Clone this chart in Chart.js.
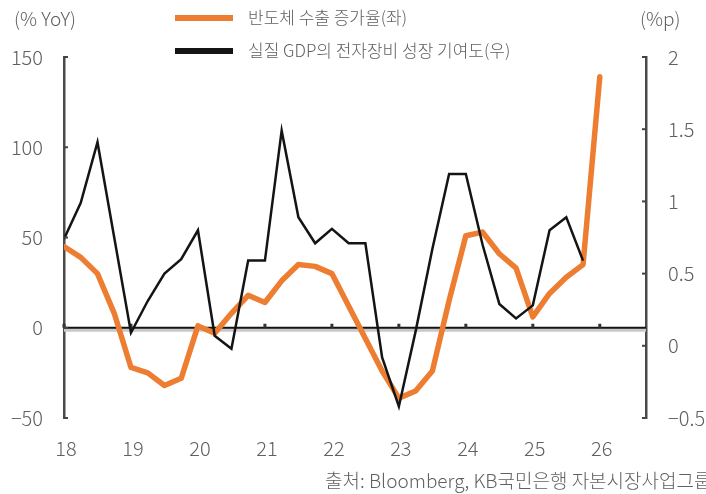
<!DOCTYPE html>
<html>
<head>
<meta charset="utf-8">
<script src="https://cdn.jsdelivr.net/npm/chart.js@4"></script>
<style>
  html, body { margin: 0; padding: 0; background: #fff; }
  #wrap { width: 706px; height: 494px; }
</style>
</head>
<body>
<div id="wrap"><canvas id="chipChart" width="706" height="494"></canvas></div>
<script>
// 분기 (18Q1 ~ 26Q1)
const quarters = [
  '18Q1','18Q2','18Q3','18Q4','19Q1','19Q2','19Q3','19Q4',
  '20Q1','20Q2','20Q3','20Q4','21Q1','21Q2','21Q3','21Q4',
  '22Q1','22Q2','22Q3','22Q4','23Q1','23Q2','23Q3','23Q4',
  '24Q1','24Q2','24Q3','24Q4','25Q1','25Q2','25Q3','25Q4','26Q1'
];
// 반도체 수출 증가율 (% YoY, 좌축)
const chipExports = [
  45, 39, 30, 8, -22, -25, -32, -28,
  1, -3, 8, 18, 14, 26, 35, 34,
  30, 12, -6, -24, -39, -35, -24, 15,
  51, 53, 41, 33, 6, 19, 28, 35, 139
];
// 실질 GDP의 전자장비 성장 기여도 (%p, 우축)
const gdpContrib = [
  0.74, 0.99, 1.41, 0.75, 0.09, 0.31, 0.50, 0.60,
  0.80, 0.07, -0.02, 0.59, 0.59, 1.49, 0.89, 0.71,
  0.81, 0.71, 0.71, -0.08, -0.42, 0.10, 0.67, 1.19,
  1.19, 0.70, 0.29, 0.19, 0.28, 0.80, 0.89, 0.59
];
const leftTicks = [-50, 0, 50, 100, 150];
const rightTicks = [-0.5, 0, 0.5, 1, 1.5, 2];
const yearLabels = ['18', '19', '20', '21', '22', '23', '24', '25', '26'];

const legendNames = ['반도체 수출 증가율(좌)', '실질 GDP의 전자장비 성장 기여도(우)'];
const sourceText = '출처: Bloomberg, KB국민은행 자본시장사업그룹';

const ORANGE = '#ED7D31';
const BLACK = '#141414';
const TEXT = '#606060';
const FONT = '"Noto Sans CJK KR", "Noto Sans", sans-serif';

// '18Q3' -> 2018.5
function quarterToX(q) {
  return 2000 + parseInt(q.slice(0, 2), 10) + (parseInt(q.slice(3), 10) - 1) / 4;
}
const xs = quarters.map(quarterToX);
const firstYear = 2000 + parseInt(yearLabels[0], 10);

const minus = v => String(v).replace('-', '−');

const decor = {
  id: 'decor',
  beforeDatasetsDraw(chart) {
    const { ctx, chartArea: a, scales } = chart;
    const y0 = scales.y.getPixelForValue(0);
    ctx.save();
    // 0선 (회색 그림자 + 검은 선)
    ctx.fillStyle = '#c9c9c9';
    ctx.fillRect(a.left, y0, a.right - a.left, 4);
    ctx.strokeStyle = BLACK;
    ctx.lineWidth = 2;
    ctx.beginPath();
    ctx.moveTo(a.left, y0);
    ctx.lineTo(a.right, y0);
    ctx.stroke();
    // 연도 눈금
    ctx.fillStyle = '#333';
    yearLabels.forEach((lab, i) => {
      const x = scales.x.getPixelForValue(firstYear + i);
      ctx.fillRect(x - 1.5, y0 - 4, 3, 4);
    });
    ctx.restore();
  },
  afterDraw(chart) {
    const { ctx, chartArea: a, scales } = chart;
    ctx.save();
    // 축 안쪽 눈금
    ctx.strokeStyle = '#444';
    ctx.lineWidth = 2;
    leftTicks.forEach(v => {
      const y = scales.y.getPixelForValue(v);
      ctx.beginPath(); ctx.moveTo(a.left, y); ctx.lineTo(a.left + 4, y); ctx.stroke();
    });
    rightTicks.forEach(v => {
      const y = scales.y1.getPixelForValue(v);
      ctx.beginPath(); ctx.moveTo(a.right - 4, y); ctx.lineTo(a.right, y); ctx.stroke();
    });

    ctx.fillStyle = TEXT;
    ctx.textBaseline = 'middle';
    ctx.textAlign = 'left';
    ctx.font = '300 19px ' + FONT;
    ctx.fillText('(% YoY)', 14, 19);
    ctx.fillText('(%p)', 640, 19);

    // 범례
    ctx.fillStyle = ORANGE;
    ctx.fillRect(175, 15, 58, 6);
    ctx.fillStyle = BLACK;
    ctx.fillRect(175, 48, 58, 6);
    ctx.fillStyle = TEXT;
    ctx.font = '300 17px ' + FONT;
    ctx.fillText(legendNames[0], 248, 18);
    ctx.fillText(legendNames[1], 248, 51);

    // 출처
    ctx.font = '300 19px ' + FONT;
    ctx.fillText(sourceText, 325, 481);
    ctx.restore();
  }
};

const ctx = document.getElementById('chipChart').getContext('2d');
new Chart(ctx, {
  type: 'line',
  data: {
    datasets: [
      {
        label: legendNames[1],
        data: gdpContrib.map((v, i) => ({ x: xs[i], y: v })),
        borderColor: BLACK,
        borderWidth: 2.5,
        pointRadius: 0,
        tension: 0,
        yAxisID: 'y1',
        order: 0
      },
      {
        label: legendNames[0],
        data: chipExports.map((v, i) => ({ x: xs[i], y: v })),
        borderColor: ORANGE,
        borderWidth: 5.5,
        borderJoinStyle: 'round',
        borderCapStyle: 'round',
        pointRadius: 0,
        tension: 0,
        yAxisID: 'y',
        order: 1
      }
    ]
  },
  options: {
    responsive: false,
    animation: false,
    layout: { padding: { top: 57 } },
    plugins: {
      legend: { display: false },
      tooltip: { enabled: false }
    },
    scales: {
      x: {
        type: 'linear',
        min: firstYear,
        max: firstYear + 8.69,
        border: { display: false },
        grid: { display: false },
        ticks: {
          stepSize: 1,
          includeBounds: false,
          padding: 10,
          labelOffset: 2,
          color: TEXT,
          font: { family: FONT, size: 20, weight: 300 },
          maxRotation: 0,
          callback: v => Number.isInteger(v) ? yearLabels[v - firstYear] : ''
        },
        afterFit: s => { s.height = 76; }
      },
      y: {
        position: 'left',
        min: leftTicks[0],
        max: leftTicks[leftTicks.length - 1],
        border: { display: true, color: '#4a4a4a', width: 2.5 },
        grid: { drawOnChartArea: false, drawTicks: false },
        ticks: {
          stepSize: 50,
          padding: 21,
          color: TEXT,
          font: { family: FONT, size: 20, weight: 300 },
          callback: minus
        },
        afterFit: s => { s.width = 64; }
      },
      y1: {
        position: 'right',
        min: rightTicks[0],
        max: rightTicks[rightTicks.length - 1],
        border: { display: true, color: '#4a4a4a', width: 2.5 },
        grid: { drawOnChartArea: false, drawTicks: false },
        ticks: {
          stepSize: 0.5,
          padding: 22,
          color: TEXT,
          font: { family: FONT, size: 20, weight: 300 },
          callback: minus
        },
        afterFit: s => { s.width = 60; }
      }
    }
  },
  plugins: [decor]
});
</script>
</body>
</html>
